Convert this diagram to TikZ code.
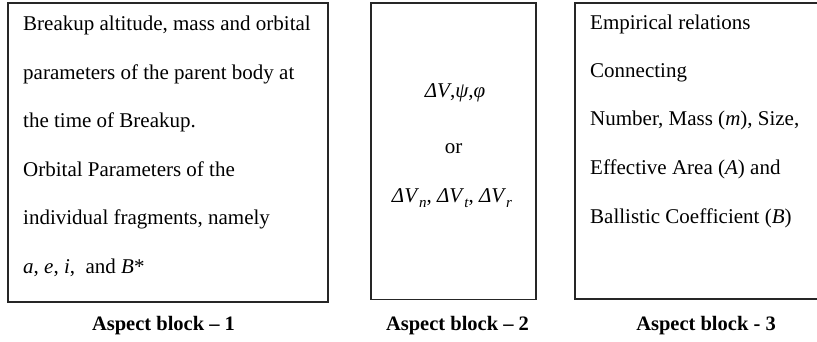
\documentclass[tikz,border=0pt]{standalone}
\usepackage{fontspec}
\setmainfont{Liberation Serif}
\begin{document}
\begin{tikzpicture}[x=1pt,y=-1pt,
  blockbox/.style={draw=black!85,line width=1.6pt,inner sep=0pt},
  txt/.style={anchor=base west,inner sep=0pt,font=\fontsize{21}{25}\selectfont},
  ctxt/.style={anchor=base,inner sep=0pt,font=\fontsize{21}{25}\selectfont},
  lab/.style={anchor=base,inner sep=0pt,font=\fontsize{20.5}{24}\selectfont\bfseries}]
\useasboundingbox (0,0) rectangle (817,342);
\clip (0,0) rectangle (817,342);
% boxes
\node[blockbox,minimum width=320pt,minimum height=299pt] (box1) at (168,152.5) {};
\node[blockbox,minimum width=165pt,minimum height=296pt] (box2) at (453.2,151.3) {};
\node[blockbox,minimum width=260pt,minimum height=296pt] (box3) at (705,151) {};
% block 1 text
\node[txt] (t11) at (23,31) {Breakup altitude, mass and orbital};
\node[txt] (t12) at (23,79.5) {parameters of the parent body at};
\node[txt] (t13) at (23,128) {the time of Breakup.};
\node[txt] (t14) at (23,176.5) {Orbital Parameters of the};
\node[txt] (t15) at (23,225) {individual fragments, namely};
\node[txt] (t16) at (23,273.5) {\textit{a}, \textit{e}, \textit{i},\ \ and \textit{B}*};
% block 2 text
\node[ctxt] (t21) at (455,98) {\textit{ΔV},\textit{ψ},\textit{φ}};
\node[ctxt] (t22) at (453.5,154) {or};
\node[ctxt] (t23) at (452,203) {\textit{ΔV}\raisebox{-0.22em}{\fontsize{15}{15}\selectfont\itshape n}, \textit{ΔV}\raisebox{-0.22em}{\fontsize{15}{15}\selectfont\itshape t}, \textit{ΔV}\raisebox{-0.22em}{\fontsize{15}{15}\selectfont\itshape r}};
% block 3 text
\node[txt] (t31) at (590,30) {Empirical relations};
\node[txt] (t32) at (590,77.5) {Connecting};
\node[txt] (t33) at (590,126) {Number, Mass (\textit{m}), Size,};
\node[txt] (t34) at (590,174.5) {Effective Area (\textit{A}) and};
\node[txt] (t35) at (590,223) {Ballistic Coefficient (\textit{B})};
% labels
\node[lab] (l1) at (163.5,330) {Aspect block -- 1};
\node[lab] (l2) at (457.5,330) {Aspect block -- 2};
\node[lab] (l3) at (706,330) {Aspect block - 3};
\end{tikzpicture}
\end{document}
